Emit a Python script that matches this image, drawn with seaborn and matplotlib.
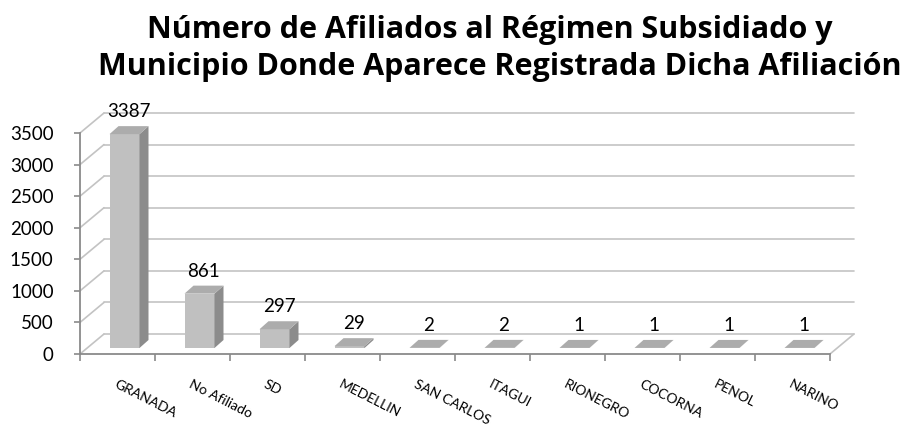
import matplotlib
matplotlib.use("Agg")
import matplotlib.pyplot as plt
from matplotlib.patches import Polygon
from matplotlib.lines import Line2D
import seaborn as sns
import pandas as pd

# Afiliados por municipio de registro
municipios = ["GRANADA", "No Afiliado", "SD", "MEDELLIN", "SAN CARLOS",
              "ITAGUI", "RIONEGRO", "COCORNA", "PENOL", "NARINO"]
afiliados = [3387, 861, 297, 29, 2, 2, 1, 1, 1, 1]
y_ticks = [0, 500, 1000, 1500, 2000, 2500, 3000, 3500]

titulo = ("Número de Afiliados al Régimen Subsidiado y\n"
          "Municipio Donde Aparece Registrada Dicha Afiliación")

sns.set_theme(style="white")
plt.rcParams["font.family"] = ["Lato", "DejaVu Sans"]

FRONT = "#c0c0c0"
TOP = "#acacac"
SIDE = "#8c8c8c"
GRID = "#c3c3c3"
AXIS = "#8a8a8a"

W, H = 911, 428
fig = plt.figure(figsize=(W / 100, H / 100), dpi=100)
ax = fig.add_axes([80 / W, (H - 354) / H, 750 / W, 221 / H])

df = pd.DataFrame({"municipio": municipios, "afiliados": afiliados})
sns.barplot(data=df, x="municipio", y="afiliados", color=FRONT,
            saturation=1, width=0.4, edgecolor="none", ax=ax, zorder=3)

ax.set_xlim(-0.5, len(municipios) - 0.5)
ax.set_ylim(0, 3500)
ax.set_xlabel("")
ax.set_ylabel("")

# pixel -> data-unit conversion (axes have fixed size and limits)
px_x = (len(municipios)) / 750.0
px_y = 3500 / 221.0


def off(dx_px, dy_px):
    return dx_px * px_x, dy_px * px_y


# depth of the chart box and of each bar (oblique projection)
wall_dx, wall_dy = off(24, 20)
plane_dx, plane_dy = off(7, 6)
bar_dx, bar_dy = off(9, 8)

x_left, x_right = -0.5, len(municipios) - 0.5

# floor
floor = Polygon([(x_left, 0), (x_right, 0), (x_right + wall_dx, wall_dy),
                 (x_left + wall_dx, wall_dy)], closed=True,
                facecolor="white", edgecolor="none", zorder=1, clip_on=False)
ax.add_patch(floor)
for seg in ([(x_left + wall_dx, x_right + wall_dx), (wall_dy, wall_dy)],
            [(x_right, x_right + wall_dx), (0, wall_dy)]):
    ax.add_line(Line2D(seg[0], seg[1], color=GRID, lw=1.2, zorder=1.5,
                       clip_on=False))

# back wall gridlines and left wall diagonals
for yv in y_ticks:
    if yv > 0:
        ax.add_line(Line2D([x_left + wall_dx, x_right + wall_dx],
                           [yv + wall_dy, yv + wall_dy], color=GRID, lw=1.2,
                           zorder=1.5, clip_on=False))
    ax.add_line(Line2D([x_left, x_left + wall_dx], [yv, yv + wall_dy],
                       color=GRID, lw=1.2, zorder=1.5, clip_on=False))

# turn the flat seaborn bars into boxes
for p, val in zip(list(ax.patches), afiliados):
    x0 = p.get_x() + plane_dx
    w = p.get_width()
    h = p.get_height()
    p.set_x(x0)
    p.set_y(plane_dy)
    p.set_clip_on(False)
    x1 = x0 + w
    yb = plane_dy
    yt = plane_dy + h
    side = Polygon([(x1, yb), (x1, yt), (x1 + bar_dx, yt + bar_dy),
                    (x1 + bar_dx, yb + bar_dy)], closed=True,
                   facecolor=SIDE, edgecolor="none", zorder=3, clip_on=False)
    top = Polygon([(x0, yt), (x1, yt), (x1 + bar_dx, yt + bar_dy),
                   (x0 + bar_dx, yt + bar_dy)], closed=True,
                  facecolor=TOP, edgecolor="none", zorder=3.1, clip_on=False)
    ax.add_patch(side)
    ax.add_patch(top)
    ax.annotate(f"{val}", xy=(x0 + w / 2 + bar_dx / 2, yt),
                xytext=(0, 14), textcoords="offset pixels",
                ha="center", va="bottom", fontsize=13.5, color="black",
                zorder=5, annotation_clip=False)

# axes frame
for name, sp in ax.spines.items():
    sp.set_visible(name in ("left", "bottom"))
    sp.set_color(AXIS)
    sp.set_linewidth(1.3)
    sp.set_zorder(4)

ax.set_yticks(y_ticks)
ax.set_yticklabels([str(v) for v in y_ticks])
ax.tick_params(axis="y", left=True, length=4, width=1.2, color=AXIS,
               pad=15, labelsize=13.5, labelcolor="black")

ax.set_xticks(range(len(municipios)))
ax.set_xticks([i - 0.5 for i in range(len(municipios) + 1)], minor=True)
ax.tick_params(axis="x", which="major", length=0, pad=17.5,
               labelsize=10, labelcolor="black")
ax.tick_params(axis="x", which="minor", bottom=True, length=5, width=1.2,
               color=AXIS)
ax.set_xticklabels(municipios)
for lab in ax.get_xticklabels():
    lab.set_rotation(-27)
    lab.set_rotation_mode("anchor")
    lab.set_ha("left")
    lab.set_va("top")

ax.set_facecolor("none")
ax.grid(False)

linea1, linea2 = titulo.split("\n")
fig.text(0.538, 1 - 38 / H, linea1, ha="center", va="baseline",
         fontsize=22, fontweight="bold",
         family=["Open Sans", "DejaVu Sans"], color="black")
fig.text(0.549, 1 - 75 / H, linea2, ha="center", va="baseline",
         fontsize=22, fontweight="bold",
         family=["Open Sans", "DejaVu Sans"], color="black")

fig.savefig("out.png", dpi=100, facecolor="white")
